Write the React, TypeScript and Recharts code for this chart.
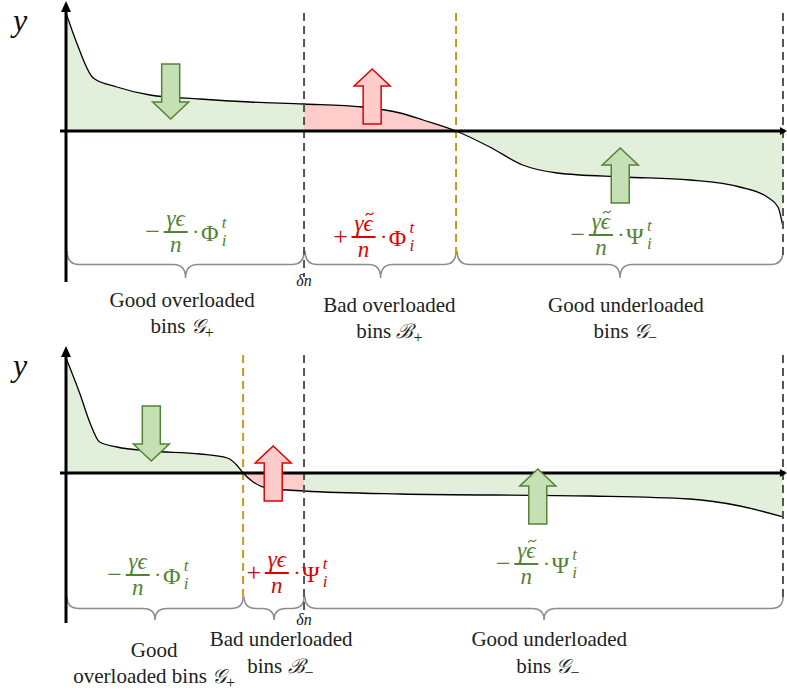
import { ComposedChart, Area, XAxis, YAxis, ReferenceLine, ReferenceDot, ReferenceArea } from "recharts"

// bin position (0 = first bin, 100 = last bin) and load y, upper panel
const binsTop = [0, 1.5, 3.8, 7.1, 11.7, 18.7, 25.7, 33.2, 41.4, 46.6, 49.8, 54.4, 59.1, 63.7, 68.5, 77.7, 87.0, 94.0, 97.8, 99.3, 100]
const loadTop = [118, 88, 53, 44, 36, 32, 29, 27, 24, 18, 11, 0, -16, -34, -42, -46, -49, -56, -66, -76, -96]

// lower panel
const binsBottom = [0, 2.0, 3.3, 4.7, 7.1, 11.7, 18.7, 22.5, 23.8, 24.7, 26.1, 28.0, 33.2, 46.6, 73.1, 87.0, 94.0, 100]
const loadBottom = [115, 78, 51, 31, 26, 22, 19, 15, 8, 0, -9, -15, -18, -21, -23, -26, -33, -44]

// region edges: [start, end, kind]
const regionsTop: [number, number, string][] = [[0, 33.2, "good"], [33.2, 54.4, "bad"], [54.4, 100, "good"]]
const regionsBottom: [number, number, string][] = [[0, 24.7, "good"], [24.7, 33.2, "bad"], [33.2, 100, "good"]]

const GREEN_FILL = "#e2efda"
const RED_FILL = "#ffcccc"
const GREEN = "#548235"
const RED = "#e00000"
const GOLD = "#c99a16"
const GREY = "#555"
const TEXT_FONT = "'Liberation Serif', serif"
const MATH_FONT = "'Liberation Serif', 'DejaVu Serif', serif"

type Formula = { x: number; y: number; sign: string; tilde: boolean; op: string; kind: string }
type Caption = { x: number; y: number; text: string; sym?: string; sub?: string }
type Arrow = { x: number; y: number; dir: "up" | "down"; kind: string }

const formulasTop: Formula[] = [
  { x: 15.3, y: -101, sign: "−", tilde: false, op: "Φ", kind: "good" },
  { x: 41.5, y: -106, sign: "+", tilde: true, op: "Φ", kind: "bad" },
  { x: 74.6, y: -104, sign: "−", tilde: true, op: "Ψ", kind: "good" },
]
const formulasBottom: Formula[] = [
  { x: 10.0, y: -102, sign: "−", tilde: false, op: "Φ", kind: "good" },
  { x: 29.4, y: -100, sign: "+", tilde: false, op: "Ψ", kind: "bad" },
  { x: 64.2, y: -91, sign: "−", tilde: true, op: "Ψ", kind: "good" },
]

const captionsTop: Caption[] = [
  { x: 16.2, y: -176, text: "Good overloaded" },
  { x: 16.2, y: -202, text: "bins ", sym: "𝒢", sub: "+" },
  { x: 45.1, y: -181, text: "Bad overloaded" },
  { x: 45.1, y: -207, text: "bins ", sym: "ℬ", sub: "+" },
  { x: 78.1, y: -181, text: "Good underloaded" },
  { x: 78.0, y: -207, text: "bins ", sym: "𝒢", sub: "−" },
]
const captionsBottom: Caption[] = [
  { x: 12.3, y: -184, text: "Good" },
  { x: 12.3, y: -210, text: "overloaded bins ", sym: "𝒢", sub: "+" },
  { x: 30.0, y: -173, text: "Bad underloaded" },
  { x: 29.9, y: -200, text: "bins ", sym: "ℬ", sub: "−" },
  { x: 67.4, y: -173, text: "Good underloaded" },
  { x: 67.2, y: -200, text: "bins ", sym: "𝒢", sub: "−" },
]

const arrowsTop: Arrow[] = [
  { x: 14.6, y: 12, dir: "down", kind: "good" },
  { x: 42.7, y: 62, dir: "up", kind: "bad" },
  { x: 77.3, y: -17, dir: "up", kind: "good" },
]
const arrowsBottom: Arrow[] = [
  { x: 11.9, y: 12, dir: "down", kind: "good" },
  { x: 28.9, y: 27, dir: "up", kind: "bad" },
  { x: 65.8, y: 4, dir: "up", kind: "good" },
]

function BlockArrow({ cx, cy, dir, kind }: any) {
  const s = dir === "up" ? 1 : -1
  const pts = [
    [cx, cy], [cx + 18, cy + s * 17], [cx + 9, cy + s * 17], [cx + 9, cy + s * 55],
    [cx - 9, cy + s * 55], [cx - 9, cy + s * 17], [cx - 18, cy + s * 17],
  ]
  return (
    <polygon
      points={pts.map((p) => p.join(",")).join(" ")}
      fill={kind === "good" ? "#c5e0b4" : RED_FILL}
      stroke={kind === "good" ? GREEN : RED}
      strokeWidth={1.5}
    />
  )
}

function FormulaMark({ cx, cy, f }: any) {
  const color = f.kind === "good" ? GREEN : RED
  const tx = cx + 6, ty = cy - 23
  return (
    <g fill={color} fontFamily={MATH_FONT}>
      <text x={cx - 23} y={cy + 8} fontSize={26} textAnchor="middle">{f.sign}</text>
      <text x={cx} y={cy - 6} fontSize={23} fontStyle="italic" textAnchor="middle">γϵ</text>
      {f.tilde && (
        <path d={`M${tx - 4},${ty + 1.5} Q${tx - 2},${ty - 1.5} ${tx},${ty} T${tx + 4},${ty - 1.5}`} fill="none" stroke={color} strokeWidth={1.2} />
      )}
      <line x1={cx - 12} x2={cx + 12} y1={cy} y2={cy} stroke={color} strokeWidth={2} />
      <text x={cx} y={cy + 20} fontSize={23} fontStyle="italic" textAnchor="middle">n</text>
      <text x={cx + 20} y={cy + 7} fontSize={22} textAnchor="middle">·</text>
      <text x={cx + 34} y={cy + 9} fontSize={24} textAnchor="middle">{f.op}</text>
      <text x={cx + 46} y={cy - 4} fontSize={17} fontStyle="italic">t</text>
      <text x={cx + 46} y={cy + 14} fontSize={17} fontStyle="italic">i</text>
    </g>
  )
}

function CaptionMark({ cx, cy, c }: any) {
  return (
    <text x={cx} y={cy} textAnchor="middle" fontFamily={TEXT_FONT} fontSize={21} fill="#222">
      {c.text}
      {c.sym && <tspan fontStyle="italic" fontSize={20}>{c.sym}</tspan>}
      {c.sub && <tspan fontSize={16} dy={5}>{c.sub}</tspan>}
    </text>
  )
}

function Brace({ x, y, width, height }: any) {
  const x1 = x, x2 = x + width, xm = x + width / 2
  const top = y, mid = y + height / 2, tip = y + height
  const r = Math.min(12, width / 4)
  const d = `M${x1},${top} Q${x1},${mid} ${x1 + r},${mid} L${xm - r},${mid} Q${xm},${mid} ${xm},${tip} Q${xm},${mid} ${xm + r},${mid} L${x2 - r},${mid} Q${x2},${mid} ${x2},${top}`
  return <path d={d} fill="none" stroke="#8c8c8c" strokeWidth={1.5} />
}

function Panel({ bins, load, regions, formulas, captions, arrows, dashes, yDomain, height, gid, braceTop, braceTip, axisBottom, axisTop, deltaY }: any) {
  const data = bins.map((x: number, i: number) => ({ x, y: load[i] }))
  return (
    <ComposedChart width={787} height={height} data={data} margin={{ top: 0, right: 4, bottom: 0, left: 66 }}>
      <defs>
        <linearGradient id={gid} x1="0" y1="0" x2="1" y2="0">
          {regions.flatMap(([a, b, k]: any, i: number) => [
            <stop key={i + "a"} offset={a / 100} stopColor={k === "good" ? GREEN_FILL : RED_FILL} />,
            <stop key={i + "b"} offset={b / 100} stopColor={k === "good" ? GREEN_FILL : RED_FILL} />,
          ])}
        </linearGradient>
      </defs>
      <XAxis dataKey="x" type="number" domain={[0, 100]} hide allowDataOverflow />
      <YAxis type="number" domain={yDomain} hide allowDataOverflow />
      <Area
        type="monotone"
        dataKey="y"
        stroke="#000"
        strokeWidth={1.3}
        fill={`url(#${gid})`}
        fillOpacity={1}
        baseValue={0}
        dot={false}
        activeDot={false}
        isAnimationActive={false}
      />
      {dashes.map(([x, top, bottom, color]: any, i: number) => (
        <ReferenceLine key={"d" + i} segment={[{ x, y: top }, { x, y: bottom }]} stroke={color} strokeWidth={2} strokeDasharray="8 5" ifOverflow="visible" />
      ))}
      <ReferenceLine segment={[{ x: -0.84, y: 0 }, { x: 100.3, y: 0 }]} stroke="#000" strokeWidth={3} ifOverflow="visible" />
      <ReferenceLine segment={[{ x: 0, y: axisBottom }, { x: 0, y: axisTop - 8 }]} stroke="#000" strokeWidth={3} ifOverflow="visible" />
      <ReferenceDot x={0} y={axisTop} ifOverflow="visible" shape={(p: any) => (
        <polygon points={`${p.cx},${p.cy} ${p.cx + 5},${p.cy + 11} ${p.cx - 5},${p.cy + 11}`} fill="#000" />
      )} />
      <ReferenceDot x={100.55} y={0} ifOverflow="visible" shape={(p: any) => (
        <polygon points={`${p.cx},${p.cy} ${p.cx - 7},${p.cy - 4} ${p.cx - 7},${p.cy + 4}`} fill="#000" />
      )} />
      {regions.map(([a, b]: any, i: number) => (
        <ReferenceArea key={"b" + i} x1={a + 0.15} x2={b} y1={braceTop} y2={braceTip} ifOverflow="visible" shape={Brace} />
      ))}
      {arrows.map((a: Arrow, i: number) => (
        <ReferenceDot key={"a" + i} x={a.x} y={a.y} ifOverflow="visible" shape={(p: any) => <BlockArrow cx={p.cx} cy={p.cy} dir={a.dir} kind={a.kind} />} />
      ))}
      {formulas.map((f: Formula, i: number) => (
        <ReferenceDot key={"f" + i} x={f.x} y={f.y} ifOverflow="visible" shape={(p: any) => <FormulaMark cx={p.cx} cy={p.cy} f={f} />} />
      ))}
      {captions.map((c: Caption, i: number) => (
        <ReferenceDot key={"c" + i} x={c.x} y={c.y} ifOverflow="visible" shape={(p: any) => <CaptionMark cx={p.cx} cy={p.cy} c={c} />} />
      ))}
      <ReferenceDot x={33.2} y={deltaY} ifOverflow="visible" shape={(p: any) => (
        <text x={p.cx} y={p.cy} textAnchor="middle" fontFamily={MATH_FONT} fontStyle="italic" fontSize={16} fill="#222">δn</text>
      )} />
      <ReferenceDot x={-6.4} y={axisTop - 30} ifOverflow="visible" shape={(p: any) => (
        <text x={p.cx} y={p.cy} textAnchor="middle" fontFamily={MATH_FONT} fontStyle="italic" fontSize={32} fill="#111">y</text>
      )} />
    </ComposedChart>
  )
}

export default function App() {
  return (
    <div style={{ position: "absolute", left: 0, top: 0, width: 787, height: 695, background: "#fff" }}>
      <Panel
        gid="fillTop"
        bins={binsTop}
        load={loadTop}
        regions={regionsTop}
        formulas={formulasTop}
        captions={captionsTop}
        arrows={arrowsTop}
        dashes={[[33.2, 118, -146, GREY], [54.4, 118, -126, GOLD], [100, 118, -128, GREY]]}
        yDomain={[-214, 131]}
        height={345}
        braceTop={-120}
        braceTip={-147}
        axisBottom={-151}
        axisTop={130}
        deltaY={-155}
      />
      <Panel
        gid="fillBottom"
        bins={binsBottom}
        load={loadBottom}
        regions={regionsBottom}
        formulas={formulasBottom}
        captions={captionsBottom}
        arrows={arrowsBottom}
        dashes={[[24.7, 118, -126, GOLD], [33.2, 118, -140, GREY], [100, 118, -124, GREY]]}
        yDomain={[-222, 128]}
        height={350}
        braceTop={-124}
        braceTip={-147}
        axisBottom={-150}
        axisTop={127}
        deltaY={-152}
      />
    </div>
  )
}
